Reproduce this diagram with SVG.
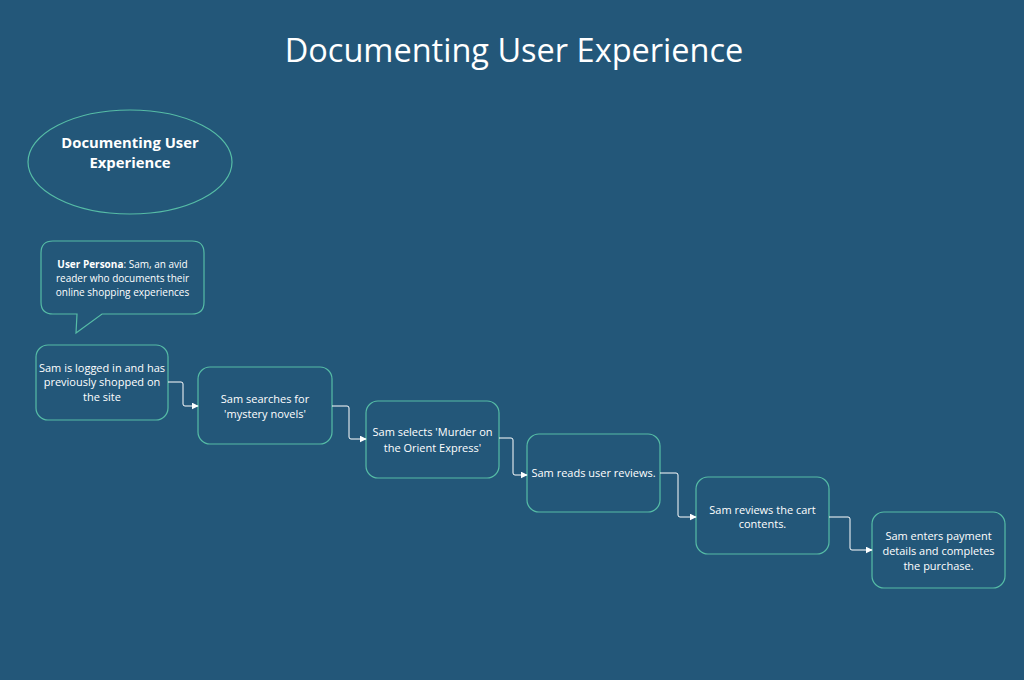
<svg xmlns="http://www.w3.org/2000/svg" width="1024" height="680" viewBox="0 0 1024 680">
<defs>
<style>
.bg{fill:#235779}
.shape{fill:#235779;stroke:#56bca6;stroke-width:1.2}
.t{font-family:"Open Sans","Noto Sans","Liberation Sans",sans-serif;fill:#ffffff;text-anchor:middle}
.n{font-size:11px}
.p{font-size:10px}
.conn{fill:none;stroke:#ffffff;stroke-width:1;stroke-linejoin:round}
</style>
<marker id="ah" viewBox="0 0 10 10" refX="9" refY="5" markerWidth="7" markerHeight="7" orient="auto" markerUnits="userSpaceOnUse">
<path d="M0,0 L10,5 L0,10 z" fill="#ffffff"/>
</marker>
</defs>
<rect class="bg" x="0" y="0" width="1024" height="680"/>
<text class="t" x="514" y="62" font-size="32.5">Documenting User Experience</text>

<g id="ellipse-node">
<ellipse class="shape" cx="130" cy="162" rx="102" ry="52"/>
<text class="t" x="130" y="148" font-size="14.8" font-weight="bold">Documenting User</text>
<text class="t" x="130" y="168" font-size="14.8" font-weight="bold">Experience</text>
</g>

<g id="persona">
<path class="shape" d="M53,241 H192 Q204,241 204,253 V302 Q204,314 192,314 H102 L76,333 L77,314 H53 Q41,314 41,302 V253 Q41,241 53,241 Z"/>
<text class="t p" x="122.5" y="268"><tspan font-weight="bold">User Persona</tspan>: Sam, an avid</text>
<text class="t p" x="122.5" y="282">reader who documents their</text>
<text class="t p" x="122.5" y="296">online shopping experiences</text>
</g>

<g id="node1">
<rect class="shape" x="36" y="345" width="132" height="75" rx="12"/>
<text class="t n" x="102" y="372">Sam is logged in and has</text>
<text class="t n" x="102" y="386">previously shopped on</text>
<text class="t n" x="102" y="401">the site</text>
</g>

<g id="node2">
<rect class="shape" x="198" y="367" width="134" height="77" rx="12"/>
<text class="t n" x="265" y="403">Sam searches for</text>
<text class="t n" x="265" y="418">'mystery novels'</text>
</g>

<g id="node3">
<rect class="shape" x="366" y="401" width="133" height="77" rx="12"/>
<text class="t n" x="432.5" y="436">Sam selects 'Murder on</text>
<text class="t n" x="432.5" y="452">the Orient Express'</text>
</g>

<g id="node4">
<rect class="shape" x="527" y="434" width="133" height="78" rx="12"/>
<text class="t n" x="593.5" y="477">Sam reads user reviews.</text>
</g>

<g id="node5">
<rect class="shape" x="696" y="477" width="133" height="77" rx="12"/>
<text class="t n" x="762.5" y="514">Sam reviews the cart</text>
<text class="t n" x="762.5" y="528">contents.</text>
</g>

<g id="node6">
<rect class="shape" x="872" y="512" width="133" height="76" rx="12"/>
<text class="t n" x="938.5" y="540">Sam enters payment</text>
<text class="t n" x="938.5" y="555">details and completes</text>
<text class="t n" x="938.5" y="570">the purchase.</text>
</g>

<g id="connectors">
<path class="conn" marker-end="url(#ah)" d="M168,382 H181 Q183,382 183,384 V404 Q183,406 185,406 H198"/>
<path class="conn" marker-end="url(#ah)" d="M332,406 H347 Q349,406 349,408 V437 Q349,439 351,439 H366"/>
<path class="conn" marker-end="url(#ah)" d="M499,438 H511 Q513,438 513,440 V473 Q513,475 515,475 H527"/>
<path class="conn" marker-end="url(#ah)" d="M660,473 H676 Q678,473 678,475 V515 Q678,517 680,517 H696"/>
<path class="conn" marker-end="url(#ah)" d="M829,517 H848 Q850,517 850,519 V548 Q850,550 852,550 H872"/>
</g>
</svg>
